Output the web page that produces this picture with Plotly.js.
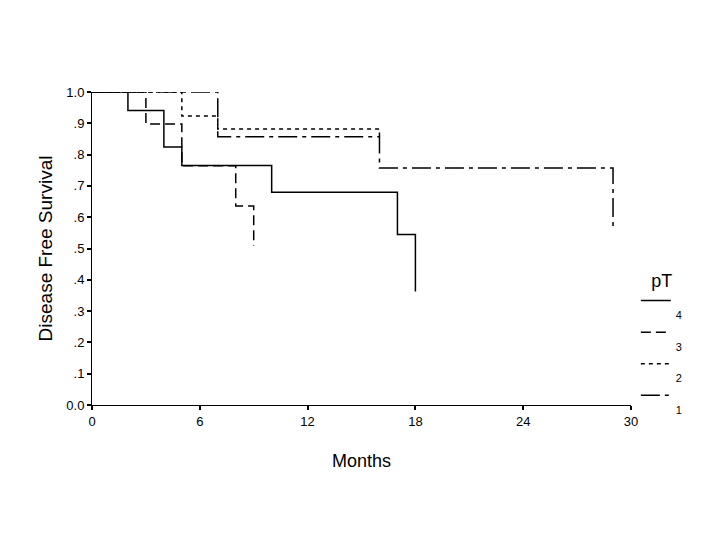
<!DOCTYPE html>
<html>
<head>
<meta charset="utf-8">
<script src="https://cdn.plot.ly/plotly-3.0.1.min.js"></script>
<style>html,body{margin:0;padding:0;background:#fff;}#chart{width:720px;height:540px;}</style>
</head>
<body>
<div id="chart"></div>
<script>
// Kaplan-Meier step data (event months, survival after event)
const months4 = [0, 2, 4, 5, 10, 17, 18];
const surv4   = [1, 0.941, 0.824, 0.765, 0.68, 0.545, 0.363];
const months3 = [0, 3, 5, 8, 9];
const surv3   = [1, 0.898, 0.764, 0.636, 0.509];
const months2 = [0, 5, 7, 16];
const surv2   = [1, 0.923, 0.882, 0.857];
const months1 = [0, 7, 16, 29];
const surv1   = [1, 0.857, 0.757, 0.565];

const groupNames = ['4', '3', '2', '1'];
const xTicks = [0, 6, 12, 18, 24, 30];
const yTickVals = [0, 0.1, 0.2, 0.3, 0.4, 0.5, 0.6, 0.7, 0.8, 0.9, 1.0];
const yTickText = ['0.0', '.1', '.2', '.3', '.4', '.5', '.6', '.7', '.8', '.9', '1.0'];

const dashes = ['solid', '10px,5px', '4px,4px', '19px,5px,4px,5px'];
const xs = [months4, months3, months2, months1];
const ys = [surv4, surv3, surv2, surv1];

const font = 'Liberation Sans, Arial, sans-serif';

const traces = xs.map((x, i) => ({
  x: x, y: ys[i], type: 'scatter', mode: 'lines',
  line: {shape: 'hv', color: '#000', width: 1.5, dash: dashes[i]},
  name: ' <br>' + groupNames[i],
  legendgroup: 'g' + i,
  hoverinfo: 'skip'
}));

const layout = {
  width: 720, height: 540,
  margin: {l: 92, r: 89, t: 92, b: 135},
  paper_bgcolor: '#fff', plot_bgcolor: '#fff',
  font: {family: font, color: '#000', size: 13},
  showlegend: true,
  legend: {
    x: 1.009, xanchor: 'left', y: 0.452, yanchor: 'top',
    title: {text: 'pT', side: 'top center', font: {size: 18, family: font}},
    font: {size: 11, family: font},
    valign: 'top', itemwidth: 30, tracegroupgap: 0,
    traceorder: 'normal', bgcolor: 'rgba(0,0,0,0)'
  },
  xaxis: {
    range: [0, 30], tickvals: xTicks, ticktext: xTicks.map(String),
    showgrid: false, zeroline: false, showline: true, linecolor: '#000', linewidth: 1,
    ticks: 'outside', ticklen: 4, tickwidth: 2, tickcolor: '#000',
    tickfont: {size: 13, family: font},
    title: {text: 'Months', font: {size: 18, family: font}, standoff: 26},
    automargin: false, fixedrange: true
  },
  yaxis: {
    range: [0, 1], tickvals: yTickVals, ticktext: yTickText,
    showgrid: false, zeroline: false, showline: true, linecolor: '#000', linewidth: 1,
    ticks: 'outside', ticklen: 4, tickwidth: 2, tickcolor: '#000',
    tickfont: {size: 13, family: font},
    title: {text: 'Disease Free Survival', font: {size: 19, family: font}, standoff: 8},
    automargin: false, fixedrange: true
  }
};

Plotly.newPlot('chart', traces, layout, {staticPlot: true, displayModeBar: false});
</script>
</body>
</html>
